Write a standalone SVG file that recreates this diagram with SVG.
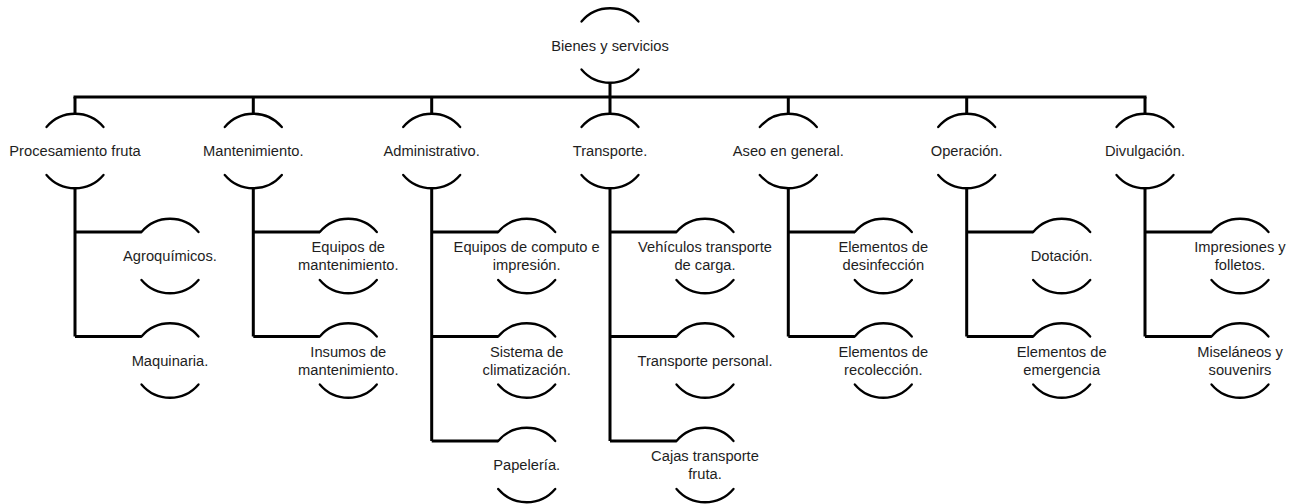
<svg xmlns="http://www.w3.org/2000/svg" width="1293" height="504" viewBox="0 0 1293 504">
<defs>
<style>
.bg{fill:#ffffff}
.arc{fill:none;stroke:#000;stroke-width:2.3;stroke-linecap:round}
.ln{fill:none;stroke:#000;stroke-width:3}
text{font-family:"Liberation Sans",Arial,sans-serif;font-size:14.7px;fill:#1e1e1e;text-anchor:middle}
</style>
</defs>
<rect class="bg" width="1293" height="504"/>
<g id="connectors">
<path class="ln" d="M610 82.5V97M73.5 97H1146.5"/>
<path class="ln" d="M75 97V114M253.3 97V114M431.7 97V114M610 97V114M788.3 97V114M966.7 97V114M1145 97V114"/>
<path class="ln" d="M75 188V336.5M75 232H141.5M75 336.5H141.5"/>
<path class="ln" d="M253.3 188V336.5M253.3 232H319.8M253.3 336.5H319.8"/>
<path class="ln" d="M431.7 188V441M431.7 232H498.2M431.7 336.5H498.2M431.7 441H498.2"/>
<path class="ln" d="M610 188V441M610 232H676.5M610 336.5H676.5M610 441H676.5"/>
<path class="ln" d="M788.3 188V336.5M788.3 232H854.8M788.3 336.5H854.8"/>
<path class="ln" d="M966.7 188V336.5M966.7 232H1033.2M966.7 336.5H1033.2"/>
<path class="ln" d="M1145 188V336.5M1145 232H1211.5M1145 336.5H1211.5"/>
</g>
<g id="root">
<path class="arc" d="M581.5 21.5A37.3 37.3 0 0 1 638.5 21.5M581.5 69.5A37.3 37.3 0 0 0 638.5 69.5"/>
<text x="610" y="50.5">Bienes y servicios</text>
</g>
<g id="n-procesamiento">
<path class="arc" d="M46.5 127A37.3 37.3 0 0 1 103.5 127M46.5 175A37.3 37.3 0 0 0 103.5 175"/>
<text x="75" y="156">Procesamiento fruta</text>
</g>
<g id="n-mantenimiento">
<path class="arc" d="M224.8 127A37.3 37.3 0 0 1 281.8 127M224.8 175A37.3 37.3 0 0 0 281.8 175"/>
<text x="253.3" y="156">Mantenimiento.</text>
</g>
<g id="n-administrativo">
<path class="arc" d="M403.2 127A37.3 37.3 0 0 1 460.2 127M403.2 175A37.3 37.3 0 0 0 460.2 175"/>
<text x="431.7" y="156">Administrativo.</text>
</g>
<g id="n-transporte">
<path class="arc" d="M581.5 127A37.3 37.3 0 0 1 638.5 127M581.5 175A37.3 37.3 0 0 0 638.5 175"/>
<text x="610" y="156">Transporte.</text>
</g>
<g id="n-aseo">
<path class="arc" d="M759.8 127A37.3 37.3 0 0 1 816.8 127M759.8 175A37.3 37.3 0 0 0 816.8 175"/>
<text x="788.3" y="156">Aseo en general.</text>
</g>
<g id="n-operacion">
<path class="arc" d="M938.2 127A37.3 37.3 0 0 1 995.2 127M938.2 175A37.3 37.3 0 0 0 995.2 175"/>
<text x="966.7" y="156">Operación.</text>
</g>
<g id="n-divulgacion">
<path class="arc" d="M1116.5 127A37.3 37.3 0 0 1 1173.5 127M1116.5 175A37.3 37.3 0 0 0 1173.5 175"/>
<text x="1145" y="156">Divulgación.</text>
</g>
<g id="c-agroquimicos">
<path class="arc" d="M141.5 232A37.3 37.3 0 0 1 198.5 232M141.5 280A37.3 37.3 0 0 0 198.5 280"/>
<text x="170" y="261">Agroquímicos.</text>
</g>
<g id="c-maquinaria">
<path class="arc" d="M141.5 336.5A37.3 37.3 0 0 1 198.5 336.5M141.5 384.5A37.3 37.3 0 0 0 198.5 384.5"/>
<text x="170" y="365.5">Maquinaria.</text>
</g>
<g id="c-equipos-mant">
<path class="arc" d="M319.8 232A37.3 37.3 0 0 1 376.8 232M319.8 280A37.3 37.3 0 0 0 376.8 280"/>
<text x="348.3" y="252">Equipos de</text>
<text x="348.3" y="270">mantenimiento.</text>
</g>
<g id="c-insumos-mant">
<path class="arc" d="M319.8 336.5A37.3 37.3 0 0 1 376.8 336.5M319.8 384.5A37.3 37.3 0 0 0 376.8 384.5"/>
<text x="348.3" y="356.5">Insumos de</text>
<text x="348.3" y="374.5">mantenimiento.</text>
</g>
<g id="c-equipos-computo">
<path class="arc" d="M498.2 232A37.3 37.3 0 0 1 555.2 232M498.2 280A37.3 37.3 0 0 0 555.2 280"/>
<text x="526.7" y="252">Equipos de computo e</text>
<text x="526.7" y="270">impresión.</text>
</g>
<g id="c-climatizacion">
<path class="arc" d="M498.2 336.5A37.3 37.3 0 0 1 555.2 336.5M498.2 384.5A37.3 37.3 0 0 0 555.2 384.5"/>
<text x="526.7" y="356.5">Sistema de</text>
<text x="526.7" y="374.5">climatización.</text>
</g>
<g id="c-papeleria">
<path class="arc" d="M498.2 441A37.3 37.3 0 0 1 555.2 441M498.2 489A37.3 37.3 0 0 0 555.2 489"/>
<text x="526.7" y="470">Papelería.</text>
</g>
<g id="c-vehiculos">
<path class="arc" d="M676.5 232A37.3 37.3 0 0 1 733.5 232M676.5 280A37.3 37.3 0 0 0 733.5 280"/>
<text x="705" y="252">Vehículos transporte</text>
<text x="705" y="270">de carga.</text>
</g>
<g id="c-transporte-personal">
<path class="arc" d="M676.5 336.5A37.3 37.3 0 0 1 733.5 336.5M676.5 384.5A37.3 37.3 0 0 0 733.5 384.5"/>
<text x="705" y="365.5">Transporte personal.</text>
</g>
<g id="c-cajas">
<path class="arc" d="M676.5 441A37.3 37.3 0 0 1 733.5 441M676.5 489A37.3 37.3 0 0 0 733.5 489"/>
<text x="705" y="461">Cajas transporte</text>
<text x="705" y="479">fruta.</text>
</g>
<g id="c-desinfeccion">
<path class="arc" d="M854.8 232A37.3 37.3 0 0 1 911.8 232M854.8 280A37.3 37.3 0 0 0 911.8 280"/>
<text x="883.3" y="252">Elementos de</text>
<text x="883.3" y="270">desinfección</text>
</g>
<g id="c-recoleccion">
<path class="arc" d="M854.8 336.5A37.3 37.3 0 0 1 911.8 336.5M854.8 384.5A37.3 37.3 0 0 0 911.8 384.5"/>
<text x="883.3" y="356.5">Elementos de</text>
<text x="883.3" y="374.5">recolección.</text>
</g>
<g id="c-dotacion">
<path class="arc" d="M1033.2 232A37.3 37.3 0 0 1 1090.2 232M1033.2 280A37.3 37.3 0 0 0 1090.2 280"/>
<text x="1061.7" y="261">Dotación.</text>
</g>
<g id="c-emergencia">
<path class="arc" d="M1033.2 336.5A37.3 37.3 0 0 1 1090.2 336.5M1033.2 384.5A37.3 37.3 0 0 0 1090.2 384.5"/>
<text x="1061.7" y="356.5">Elementos de</text>
<text x="1061.7" y="374.5">emergencia</text>
</g>
<g id="c-impresiones">
<path class="arc" d="M1211.5 232A37.3 37.3 0 0 1 1268.5 232M1211.5 280A37.3 37.3 0 0 0 1268.5 280"/>
<text x="1240" y="252">Impresiones y</text>
<text x="1240" y="270">folletos.</text>
</g>
<g id="c-souvenirs">
<path class="arc" d="M1211.5 336.5A37.3 37.3 0 0 1 1268.5 336.5M1211.5 384.5A37.3 37.3 0 0 0 1268.5 384.5"/>
<text x="1240" y="356.5">Miseláneos y</text>
<text x="1240" y="374.5">souvenirs</text>
</g>
</svg>
